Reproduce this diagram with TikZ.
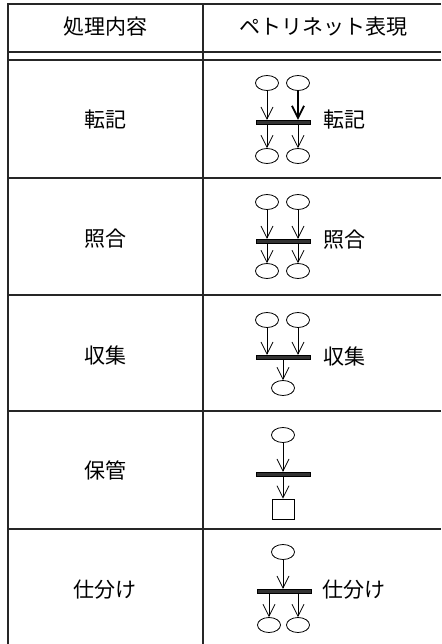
\documentclass[tikz,border=0pt]{standalone}
\usepackage{fontspec}
\newfontfamily\jp{Noto Sans CJK JP}
\usetikzlibrary{arrows.meta,shapes.geometric}
\tikzset{
  tbl/.style={line width=1.1pt, black!85},
  place/.style={draw, ellipse, line width=0.8pt, minimum width=23pt, minimum height=15pt, inner sep=0pt},
  trans/.style={fill=black!80, draw=black, line width=0.3pt, minimum width=54pt, minimum height=4pt, inner sep=0pt},
  sq/.style={draw, line width=0.8pt, minimum width=22pt, minimum height=20pt, inner sep=0pt},
  arc/.style={-{Straight Barb[length=12pt,width=12pt,line width=0.8pt]}, line width=0.8pt},
  boldarc/.style={-{Straight Barb[length=12pt,width=12pt,line width=1.8pt]}, line width=1.8pt},
  lbl/.style={font=\jp\fontsize{21}{21}\selectfont, inner sep=0pt},
}
\begin{document}
\begin{tikzpicture}[x=1pt,y=-1pt]
\useasboundingbox (0,0) rectangle (441,644);
% table
\coordinate (tl) at (8,4);
\coordinate (tr) at (441,4);
\coordinate (bl) at (8,644);
\coordinate (ct) at (203,4);
\coordinate (cb) at (203,644);
\draw[tbl] (tr) -- (tl) -- (bl);
\draw[tbl] (ct) -- (cb);
\foreach \y in {52,60,178,295,411,529}
  \draw[tbl] (8,\y) -- (441,\y);
% header
\node[lbl] (h1) at (105,27) {処理内容};
\node[lbl] (h2) at (323,27) {ペトリネット表現};
% left labels
\node[lbl] (l1) at (105,120) {転記};
\node[lbl] (l2) at (105,239) {照合};
\node[lbl] (l3) at (105,355) {収集};
\node[lbl] (l4) at (105,470) {保管};
\node[lbl] (l5) at (105,590) {仕分け};
% row 1
\node[place] (a1) at (267,83) {};
\node[place] (a2) at (298,83) {};
\node[trans] (t1) at (283,122) {};
\node[place] (a3) at (267,156) {};
\node[place] (a4) at (298,156) {};
\draw[arc] (a1.south) -- (t1.north -| a1);
\draw[boldarc] (a2.south) -- (t1.north -| a2);
\draw[arc] (t1.south -| a3) -- (a3.north);
\draw[arc] (t1.south -| a4) -- (a4.north);
\node[lbl, anchor=west] (r1) at (323,120) {転記};
% row 2
\node[place] (b1) at (267,202) {};
\node[place] (b2) at (298,202) {};
\node[trans] (t2) at (283,241) {};
\node[place] (b3) at (267,271) {};
\node[place] (b4) at (298,271) {};
\draw[arc] (b1.south) -- (t2.north -| b1);
\draw[arc] (b2.south) -- (t2.north -| b2);
\draw[arc] (t2.south -| b3) -- (b3.north);
\draw[arc] (t2.south -| b4) -- (b4.north);
\node[lbl, anchor=west] (r2) at (323,240) {照合};
% row 3
\node[place] (c1) at (267,320) {};
\node[place] (c2) at (298,320) {};
\node[trans] (t3) at (283,357) {};
\node[place] (c3) at (283,388) {};
\draw[arc] (c1.south) -- (t3.north -| c1);
\draw[arc] (c2.south) -- (t3.north -| c2);
\draw[arc] (t3.south) -- (c3.north);
\node[lbl, anchor=west] (r3) at (323,356) {収集};
% row 4
\node[place] (d1) at (283,435) {};
\node[trans] (t4) at (283,474) {};
\node[sq] (d2) at (283,509) {};
\draw[arc] (d1.south) -- (t4.north);
\draw[arc] (t4.south) -- (d2.north);
% row 5
\node[place] (e1) at (283,552) {};
\node[trans] (t5) at (284,591) {};
\node[place] (e2) at (269,625) {};
\node[place] (e3) at (298,625) {};
\draw[arc] (e1.south) -- (t5.north -| e1);
\draw[arc] (t5.south -| e2) -- (e2.north);
\draw[arc] (t5.south -| e3) -- (e3.north);
\node[lbl, anchor=west] (r5) at (322,590) {仕分け};
\end{tikzpicture}
\end{document}
